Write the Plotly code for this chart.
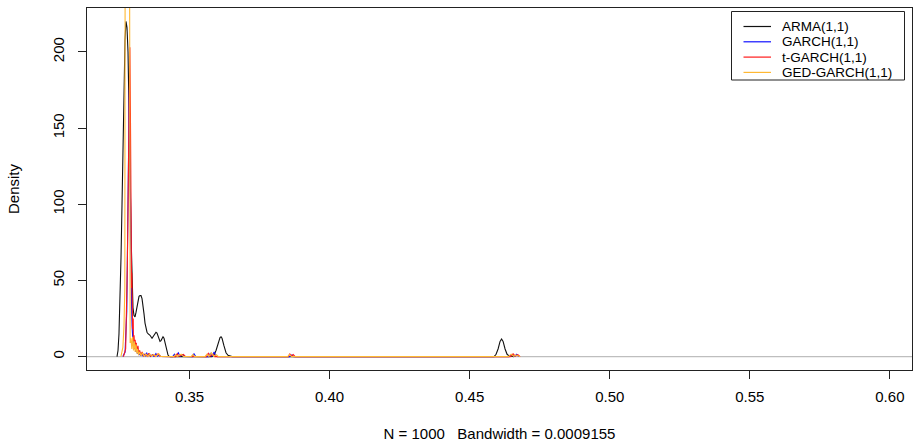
import plotly.graph_objects as go

# ---------------- data ----------------
arma_x = [0.32411, 0.32447, 0.32482, 0.32518, 0.32554, 0.32590, 0.32625, 0.32661,
          0.32697, 0.32732, 0.32768, 0.32804, 0.32840, 0.32875, 0.32911, 0.32947,
          0.32982, 0.33018, 0.33054, 0.33089, 0.33125, 0.33161, 0.33197, 0.33232,
          0.33268, 0.33304, 0.33339, 0.33375, 0.33411, 0.33446, 0.33482, 0.33518,
          0.33589, 0.33661, 0.33732, 0.33803, 0.33839, 0.33875, 0.33946, 0.33982,
          0.34018, 0.34053, 0.34089, 0.34125, 0.34161, 0.34196, 0.34232, 0.34268,
          0.34303, 0.35803, 0.35874, 0.35946, 0.36017, 0.36088, 0.36124, 0.36160,
          0.36231, 0.36303, 0.36374, 0.36446, 0.36517, 0.45871, 0.45943, 0.46014,
          0.46085, 0.46139, 0.46193, 0.46264, 0.46336, 0.46407, 0.46514, 0.46585]
arma_y = [0, 4, 15, 35, 65, 100, 140, 180,
          208, 220, 216, 200, 170, 125, 80, 48,
          32, 27, 26, 29, 33, 37, 39.5, 40,
          40, 38, 34, 28, 22, 18, 16, 15,
          14, 12, 14, 16, 15.5, 14, 10, 10.5,
          12, 13, 12, 9, 5, 2.5, 1, 0.3,
          0, 0, 1, 4, 9, 12.5, 13, 12,
          7, 2.5, 0.8, 0.2, 0, 0, 1.5, 5,
          10, 11.5, 10, 5, 1.5, 0.5, 0.1, 0]

garch_x = [0.3262, 0.3270, 0.3276, 0.3280, 0.3283, 0.3285, 0.3287, 0.3289, 0.3291,
           0.3293, 0.3295, 0.3297, 0.3299, 0.3301, 0.3303, 0.3305, 0.3308, 0.3311,
           0.3314, 0.3317, 0.3320, 0.3323, 0.3326, 0.3330, 0.3334, 0.3338, 0.3342,
           0.3347, 0.3351, 0.3356, 0.3361, 0.3367, 0.3373, 0.3380, 0.3385, 0.3392,
           0.3398, 0.3440, 0.3446, 0.3451, 0.3460, 0.3466, 0.3475, 0.3482, 0.3510,
           0.3516, 0.3522, 0.3568, 0.3574, 0.3580, 0.3588, 0.3594, 0.3600, 0.3858,
           0.3865, 0.3872, 0.4640, 0.4650, 0.4660, 0.4668, 0.4675]
garch_y = [0, 3, 30, 110, 165, 175, 150, 95, 55,
           35, 20, 12, 7, 10, 5, 8, 3, 6,
           2, 4, 1, 3, 0.5, 2, 0.3, 1.5, 0.2,
           2.5, 0.3, 1.8, 0.2, 1.2, 0.1, 2, 0.2, 1,
           0.1, 0, 1.5, 0.2, 2.5, 0.3, 1.2, 0.1, 0,
           1.8, 0.1, 0, 2, 0.3, 3, 0.2, 0, 0,
           1, 0, 0, 1.2, 0.2, 1.5, 0]

tgarch_x = [0.3264, 0.3272, 0.3278, 0.3282, 0.3285, 0.3287, 0.3289, 0.3290, 0.3292,
            0.3293, 0.3294, 0.3295, 0.3296, 0.3297, 0.3299, 0.3300, 0.3302, 0.3304,
            0.3306, 0.3308, 0.3310, 0.3313, 0.3316, 0.3319, 0.3322, 0.3326, 0.3331,
            0.3336, 0.3343, 0.3349, 0.3355, 0.3360, 0.3370, 0.3377, 0.3388, 0.3395,
            0.3450, 0.3456, 0.3462, 0.3478, 0.3485, 0.3560, 0.3567, 0.3573, 0.3584,
            0.3590, 0.3852, 0.3858, 0.3864, 0.3870, 0.3877, 0.4645, 0.4655, 0.4663,
            0.4672, 0.4680]
tgarch_y = [0, 5, 60, 150, 195, 203, 160, 100, 60,
            45, 55, 30, 40, 18, 25, 10, 14, 6,
            11, 4, 9, 3, 7, 2, 4, 1, 3,
            0.4, 1.5, 0.2, 2.2, 0.3, 1.3, 0.2, 1.8, 0.1,
            0, 1.8, 0.2, 1.5, 0.1, 0, 2.2, 0.3, 1.5,
            0, 0, 1.8, 0.4, 1.4, 0, 0, 1.8, 0.3,
            1.2, 0]

ged_x = [0.3255, 0.3262, 0.3266, 0.3269, 0.32705, 0.3275, 0.3280, 0.32855, 0.3287,
         0.3288, 0.3291, 0.3294, 0.3297, 0.3300, 0.3303, 0.3306, 0.3309, 0.3312,
         0.3315, 0.3318, 0.3322, 0.3327, 0.3332, 0.3338, 0.3345, 0.3352, 0.3358,
         0.3365, 0.3372, 0.3380, 0.3390, 0.3397, 0.3443, 0.3450, 0.3456, 0.3470,
         0.3478, 0.3505, 0.3512, 0.3519, 0.3555, 0.3562, 0.3569, 0.3578, 0.3586,
         0.3596, 0.3603, 0.3850, 0.3857, 0.3864, 0.4638, 0.4648, 0.4657, 0.4665,
         0.4680]
ged_y = [0, 6, 20, 45, 330, 470, 470, 330, 60,
         9, 12, 5, 13, 4, 10, 3, 8, 2,
         5, 1, 3, 0.5, 2.5, 0.3, 1.5, 0.2, 1.8,
         0.2, 1.4, 0.1, 2, 0.1, 0, 1.2, 0.1, 1.6,
         0.1, 0, 1.3, 0, 0, 1.5, 0.2, 2.5, 0.2,
         1.2, 0, 0, 1.4, 0, 0, 1.6, 0.2, 1,
         0]

series_names = ["ARMA(1,1)", "GARCH(1,1)", "t-GARCH(1,1)", "GED-GARCH(1,1)"]
series_colors = ["#111111", "#1010FF", "#FF1A1A", "#FFB833"]
x_ticks = [0.35, 0.40, 0.45, 0.50, 0.55, 0.60]
x_tick_labels = ["0.35", "0.40", "0.45", "0.50", "0.55", "0.60"]
y_ticks = [0, 50, 100, 150, 200]
y_tick_labels = ["0", "50", "100", "150", "200"]
x_label = "N = 1000   Bandwidth = 0.0009155"
y_label = "Density"

# ---------------- figure ----------------
FONT = "Liberation Sans, Arial, sans-serif"
W, H = 916, 446
ML, MR, MT, MB = 87, 4, 8, 76
PW, PH = W - ML - MR, H - MT - MB

def px(xp):
    return (xp - ML) / PW

def py(yp):
    return (H - MB - yp) / PH

fig = go.Figure()
for xs, ys, name, col in zip([arma_x, garch_x, tgarch_x, ged_x],
                             [arma_y, garch_y, tgarch_y, ged_y],
                             series_names, series_colors):
    fig.add_trace(go.Scatter(x=xs, y=ys, mode="lines", name=name,
                             line=dict(color=col, width=1.1), showlegend=False,
                             hoverinfo="skip"))

# zero reference line (abline h = 0, gray)
fig.add_shape(type="line", xref="x domain", yref="y", x0=0, x1=1, y0=0, y1=0,
              line=dict(color="#BEBEBE", width=1.2), layer="below")

# legend box drawn as in the reference
fig.add_shape(type="rect", xref="paper", yref="paper",
              x0=px(731.5), x1=px(904.5), y0=py(80), y1=py(11.5),
              line=dict(color="#222222", width=1), fillcolor="white", layer="below")
row_y = [26.5, 41.8, 57.1, 72.4]
for name, col, ry in zip(series_names, series_colors, row_y):
    fig.add_shape(type="line", xref="paper", yref="paper",
                  x0=px(743.5), x1=px(771), y0=py(ry), y1=py(ry),
                  line=dict(color=col, width=1.2))
    fig.add_annotation(xref="paper", yref="paper", x=px(781), y=py(ry),
                       text=name, showarrow=False, xanchor="left", yanchor="middle",
                       borderpad=0,
                       font=dict(family=FONT, size=13.5, color="#000000"))

fig.update_layout(
    width=W, height=H,
    margin=dict(l=ML, r=MR, t=MT, b=MB),
    paper_bgcolor="white", plot_bgcolor="white",
    font=dict(family=FONT, size=14, color="#000000"),
    showlegend=False,
    xaxis=dict(range=[0.3134, 0.6079], tickmode="array", tickvals=x_ticks,
               ticktext=x_tick_labels, ticks="outside", ticklen=8,
               tickcolor="#222222", showline=True, mirror=True, linecolor="#222222",
               linewidth=1, showgrid=False, zeroline=False,
               tickfont=dict(family=FONT, size=15), ticklabelstandoff=5,
               title=dict(text=x_label, font=dict(family=FONT, size=15), standoff=24)),
    yaxis=dict(range=[-8.8, 228.8], tickmode="array", tickvals=y_ticks,
               ticktext=y_tick_labels, ticks="outside", ticklen=8,
               tickcolor="#222222", showline=True, mirror=True, linecolor="#222222",
               linewidth=1, showgrid=False, zeroline=False, tickangle=-90,
               tickfont=dict(family=FONT, size=15), ticklabelstandoff=8,
               title=dict(text=y_label, font=dict(family=FONT, size=15), standoff=26)),
)

fig.write_html("out.html", config={"displayModeBar": False},
               post_script="document.body.style.margin='0';")
